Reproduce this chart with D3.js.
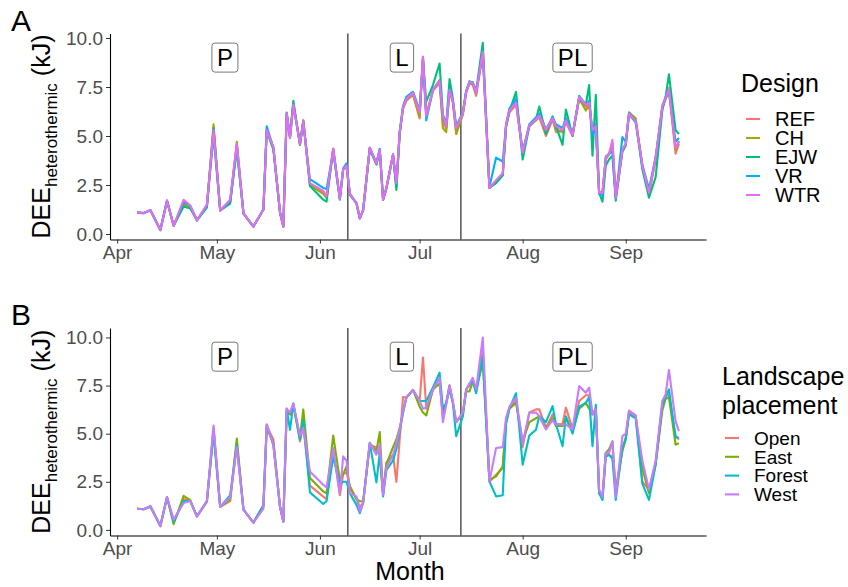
<!DOCTYPE html>
<html>
<head>
<meta charset="utf-8">
<script src="https://cdn.jsdelivr.net/npm/d3@7"></script>
<style>
  body { margin: 0; background: #fff; }
  svg { font-family: "Liberation Sans", Arial, sans-serif; }
</style>
</head>
<body>
<svg id="chart"></svg>
<script>
// sampling dates (2021 is only used for parsing)
const days = ["04-07","04-09","04-11","04-14","04-16","04-18","04-21","04-23","04-25","04-28",
  "04-30","05-02","05-05","05-07","05-09","05-12","05-15","05-16","05-18","05-20",
  "05-21","05-22","05-23","05-24","05-26","05-27","05-29","06-02","06-03","06-05",
  "06-07","06-08","06-09","06-10","06-12","06-13","06-14","06-16","06-18","06-19",
  "06-20","06-21","06-23","06-24","06-25","06-26","06-27","06-29","07-01","07-02",
  "07-03","07-05","07-07","07-08","07-09","07-10","07-11","07-12","07-14","07-15",
  "07-16","07-17","07-18","07-20","07-22","07-24","07-26","07-27","07-28","07-30",
  "08-01","08-03","08-05","08-06","08-08","08-10","08-11","08-13","08-14","08-16",
  "08-18","08-20","08-21","08-22","08-23","08-24","08-25","08-26","08-27","08-28",
  "08-29","08-31","09-01","09-02","09-04","09-06","09-08","09-10","09-12","09-13",
  "09-14","09-16","09-17"];

// panel A: Design
const designNames = ["REF","CH","EJW","VR","WTR"];
const designColors = ["#F8766D","#A3A500","#00BF7D","#00B0F6","#E76BF3"];
const refA = [1.10,1.07,1.22,0.20,1.70,0.42,1.60,1.40,0.70,1.45,
  5.35,1.20,1.65,4.55,1.05,0.38,1.25,5.35,4.40,1.10,
  0.38,6.10,4.95,6.65,4.55,5.80,2.55,2.10,1.90,4.35,
  1.80,3.30,3.45,2.05,1.57,0.80,1.22,4.40,3.60,4.30,
  1.75,2.35,4.05,2.45,5.15,6.40,6.80,7.10,5.90,9.00,
  6.00,7.30,7.70,5.70,5.40,7.30,6.70,5.20,6.10,7.20,
  7.70,7.60,7.05,9.20,2.35,2.65,3.00,5.50,6.20,6.60,
  4.20,5.50,5.80,5.95,5.00,5.85,5.20,5.25,5.70,5.00,
  6.95,6.50,6.70,5.20,5.40,2.10,2.15,3.80,4.10,4.60,
  1.90,4.25,4.55,6.10,5.80,3.45,2.05,3.80,6.45,6.90,
  7.30,4.10,4.60];
const chA = [1.10,1.07,1.22,0.20,1.70,0.42,1.55,1.35,0.70,1.40,
  5.60,1.20,1.60,4.70,1.05,0.38,1.25,5.30,4.40,1.10,
  0.38,6.10,4.95,6.65,4.60,5.80,2.50,2.05,1.85,4.35,
  1.80,3.30,3.45,2.05,1.57,0.80,1.22,4.40,3.55,4.30,
  1.75,2.30,4.05,2.40,5.15,6.40,6.85,7.15,6.00,9.00,
  6.10,7.35,7.85,5.40,5.20,7.30,6.75,5.10,6.10,7.25,
  7.70,7.65,7.15,9.40,2.35,2.70,3.05,5.55,6.25,6.75,
  4.10,5.55,5.80,6.05,5.15,5.90,5.35,5.20,5.85,5.05,
  6.90,6.30,6.60,5.10,5.40,2.10,2.05,3.85,4.05,4.60,
  1.85,4.30,4.60,6.20,5.90,3.45,2.05,3.85,6.55,7.00,
  7.45,4.30,4.75];
const ejwA = [1.10,1.07,1.22,0.20,1.70,0.42,1.40,1.30,0.70,1.35,
  5.40,1.20,1.55,4.30,1.05,0.38,1.25,5.25,4.30,1.10,
  0.38,6.20,5.00,6.80,4.55,5.75,2.45,1.75,1.65,4.30,
  1.75,3.30,3.45,2.00,1.57,0.80,1.22,4.30,3.55,4.30,
  1.75,2.35,4.05,2.25,5.10,6.50,6.95,7.25,6.30,8.90,
  6.75,7.60,8.70,6.10,5.60,7.90,6.90,5.50,6.20,7.30,
  7.70,7.75,7.30,9.75,2.35,2.60,3.00,5.45,6.25,7.25,
  3.80,5.50,5.85,6.50,5.10,6.00,5.50,4.55,6.35,5.00,
  7.05,6.60,7.60,4.00,7.10,2.10,1.65,3.50,3.80,4.00,
  1.70,4.20,4.50,6.20,5.75,3.30,1.85,2.90,6.30,7.00,
  8.15,5.30,5.10];
const vrA = [1.10,1.05,1.22,0.20,1.70,0.42,1.65,1.45,0.70,1.45,
  5.00,1.20,1.70,4.40,1.05,0.38,1.25,5.50,4.40,1.10,
  0.38,6.15,4.90,6.60,4.65,5.70,2.80,2.35,2.30,4.20,
  1.80,3.35,3.60,2.05,1.57,0.80,1.22,4.40,3.60,4.35,
  1.75,2.35,4.05,2.55,5.25,6.50,7.00,7.25,6.25,8.95,
  5.80,7.35,7.80,6.00,5.50,7.40,6.80,5.40,6.20,7.30,
  7.80,7.70,7.25,9.20,2.40,3.90,3.70,5.60,6.40,6.90,
  4.20,5.60,5.95,6.15,5.35,5.95,5.60,5.40,5.90,5.10,
  6.95,6.60,6.80,5.00,5.60,2.05,2.00,3.95,4.10,4.20,
  1.85,4.95,4.70,6.10,5.70,3.55,2.30,3.95,6.45,6.90,
  7.30,4.70,4.90];
const wtrA = [1.10,1.07,1.22,0.20,1.70,0.42,1.75,1.45,0.70,1.50,
  5.30,1.20,1.75,4.60,1.05,0.38,1.25,5.30,4.45,1.10,
  0.38,6.15,4.90,6.60,4.60,5.75,2.60,2.20,1.95,4.35,
  1.80,3.30,3.50,2.05,1.57,0.80,1.22,4.40,3.60,4.30,
  1.75,2.35,4.05,2.60,5.20,6.45,6.90,7.20,6.20,9.05,
  6.00,7.35,7.80,6.00,5.50,7.35,6.80,5.40,6.15,7.25,
  7.75,7.70,7.20,9.30,2.35,2.75,3.10,5.60,6.30,6.70,
  4.15,5.55,5.85,6.05,5.30,5.90,5.50,5.30,5.80,5.05,
  7.00,6.60,6.70,5.30,5.50,2.10,2.10,3.90,4.10,4.80,
  1.85,4.30,4.60,6.15,5.75,3.50,2.10,3.90,6.50,6.95,
  7.40,4.40,4.70];

// panel B: Landscape placement
const placeNames = ["Open","East","Forest","West"];
const placeColors = ["#F8766D","#7CAE00","#00BFC4","#C77CFF"];
const openB = [1.10,1.07,1.22,0.20,1.70,0.42,1.60,1.50,0.70,1.45,
  5.20,1.20,1.50,4.50,1.05,0.38,1.30,5.40,4.70,1.20,
  0.45,6.20,6.00,6.50,4.60,5.40,2.30,1.73,1.60,4.20,
  1.80,2.90,3.00,2.30,1.60,1.20,1.40,4.40,4.30,3.90,
  1.83,3.50,3.90,2.50,4.70,6.90,6.87,7.27,6.70,8.96,
  6.30,7.25,7.90,5.90,6.60,7.50,6.60,5.60,6.00,7.30,
  7.50,7.80,7.20,9.30,2.50,2.87,3.20,5.70,6.30,6.70,
  4.30,6.10,6.26,6.26,5.30,6.00,5.50,5.50,6.35,5.25,
  6.70,7.00,7.00,6.00,6.30,1.91,1.70,4.00,3.90,3.80,
  2.10,4.20,4.80,6.20,5.95,2.50,2.10,3.50,6.50,7.00,
  7.00,4.90,4.70];
const eastB = [1.10,1.07,1.22,0.20,1.70,0.30,1.77,1.55,0.70,1.50,
  5.30,1.20,1.60,4.75,1.05,0.38,1.25,5.30,4.50,1.20,
  0.43,6.10,6.00,6.50,4.80,6.26,2.70,2.00,1.90,4.90,
  2.60,2.90,3.30,2.20,1.60,1.48,1.50,4.50,4.10,5.08,
  1.90,3.40,4.30,4.70,5.30,6.10,6.87,7.27,6.40,6.10,
  5.95,7.30,7.60,6.00,6.60,7.50,6.60,5.60,6.10,7.20,
  7.20,7.70,7.30,8.70,2.60,2.78,3.30,5.60,6.30,6.60,
  4.60,5.60,5.80,5.90,5.30,5.80,5.40,5.40,5.80,5.10,
  6.30,6.60,6.30,6.00,6.30,1.91,1.65,4.00,4.20,4.60,
  2.00,4.10,4.70,6.10,5.90,3.20,1.90,3.40,6.20,6.80,
  6.90,4.43,4.50];
const forestB = [1.10,1.07,1.22,0.20,1.70,0.42,1.50,1.50,0.70,1.50,
  5.00,1.20,1.80,4.40,1.05,0.38,1.25,5.48,4.40,1.20,
  0.43,6.30,5.20,6.57,4.70,5.70,1.95,1.35,1.50,3.80,
  2.40,2.50,2.50,1.90,1.30,0.87,1.39,4.52,2.47,4.00,
  1.74,3.10,3.60,4.20,5.10,6.10,6.87,7.27,6.70,6.70,
  6.70,7.40,8.17,6.30,6.60,7.30,6.60,4.87,5.90,7.30,
  7.60,7.70,7.10,9.00,2.52,1.74,1.80,5.50,6.30,7.10,
  3.39,4.90,5.20,5.90,5.60,6.43,5.50,4.35,5.90,5.00,
  6.40,6.60,6.90,4.35,6.50,1.91,1.55,3.80,3.90,3.70,
  1.56,4.30,4.70,6.00,5.80,2.40,1.56,3.40,6.50,6.90,
  7.30,4.80,4.80];
const westB = [1.10,1.07,1.25,0.20,1.70,0.55,1.40,1.50,0.70,1.50,
  5.42,1.20,1.70,4.30,1.05,0.38,1.10,5.48,4.40,1.20,
  0.43,6.30,6.10,6.57,4.90,5.30,3.04,2.35,2.20,4.25,
  1.90,3.82,3.60,1.91,1.74,0.95,1.39,4.52,3.91,4.43,
  1.83,3.22,3.90,4.50,5.20,6.20,6.87,7.27,6.70,6.30,
  6.35,7.30,7.90,5.60,6.50,7.50,6.70,5.60,6.10,7.30,
  7.60,7.90,7.30,10.00,2.52,4.26,4.30,5.83,6.40,6.87,
  4.52,6.09,6.10,5.90,5.22,5.70,5.48,5.48,5.48,5.22,
  7.48,7.13,7.39,6.00,6.26,2.10,1.70,4.00,4.00,4.60,
  1.70,4.87,5.00,6.17,5.91,3.60,2.10,3.60,6.70,7.04,
  8.31,5.65,5.13];

// phases
const phaseBreaks = ["06-09 10:00","07-13 10:00"];
const phaseLabels = ["P","L","PL"];
const phaseLabelDates = ["05-03 10:00","06-25 16:00","08-16 00:00"];
const phaseLabelY = 9;

const monthTicks = ["04-01","05-01","06-01","07-01","08-01","09-01"];
const yTicks = [0, 2.5, 5, 7.5, 10];

// ---------------------------------------------------------------
const width = 848, height = 587;
const svg = d3.select("#chart").attr("width", width).attr("height", height);

const parseDay = d3.timeParse("%Y-%m-%d");
const parseTime = d3.timeParse("%Y-%m-%d %H:%M");
const dates = days.map(d => parseDay("2021-" + d));

const [d0, d1] = d3.extent(dates);
const pad = (d1 - d0) * 0.05;
const x = d3.scaleTime()
  .domain([new Date(+d0 - pad), new Date(+d1 + pad)])
  .range([110, 706]);

const tickGray = "#4D4D4D";

function drawPanel(cfg) {
  const y = d3.scaleLinear().domain(cfg.yDomain).range([cfg.bottom, cfg.top]);
  const g = svg.append("g");

  // phase boundaries
  g.selectAll("line.phase").data(phaseBreaks).enter().append("line")
    .attr("class", "phase")
    .attr("x1", d => x(parseTime("2021-" + d))).attr("x2", d => x(parseTime("2021-" + d)))
    .attr("y1", cfg.top).attr("y2", cfg.bottom)
    .attr("stroke", "#000").attr("stroke-width", 1);

  // series lines
  const line = d3.line().x((d, i) => x(dates[i])).y(d => y(d));
  g.selectAll("path.series").data(cfg.series).enter().append("path")
    .attr("class", "series")
    .attr("d", d => line(d))
    .attr("fill", "none")
    .attr("stroke", (d, i) => cfg.colors[i])
    .attr("stroke-width", 2.1)
    .attr("stroke-linejoin", "round");

  // phase labels (boxed)
  const lab = g.selectAll("g.plab").data(phaseLabels).enter().append("g")
    .attr("class", "plab")
    .attr("transform", (d, i) => "translate(" + x(parseTime("2021-" + phaseLabelDates[i])) + "," + y(phaseLabelY) + ")");
  lab.append("text")
    .attr("text-anchor", "middle").attr("dy", "0.36em")
    .attr("font-size", 24).attr("fill", "#000")
    .text(d => d);
  lab.each(function() {
    const t = d3.select(this).select("text").node().getBBox();
    d3.select(this).insert("rect", "text")
      .attr("x", t.x - 5).attr("y", -14.5)
      .attr("width", t.width + 10).attr("height", 29)
      .attr("rx", 3).attr("fill", "#fff")
      .attr("stroke", "#555").attr("stroke-width", 0.8);
  });

  // axes
  const yAxis = g.append("g").attr("transform", "translate(110,0)")
    .call(d3.axisLeft(y).tickValues(yTicks).tickFormat(d3.format(".1f")).tickSize(4).tickSizeOuter(0));
  const xAxis = g.append("g").attr("transform", "translate(0," + cfg.bottom + ")")
    .call(d3.axisBottom(x).tickValues(monthTicks.map(d => parseDay("2021-" + d)))
      .tickFormat(d3.timeFormat("%b")).tickSize(4).tickSizeOuter(0));
  [yAxis, xAxis].forEach(a => {
    a.select(".domain").attr("stroke", "#000").attr("stroke-width", 1.1);
    a.selectAll(".tick line").attr("stroke", "#333");
    a.selectAll(".tick text").attr("fill", tickGray).attr("font-size", 19)
      .attr("font-family", "Liberation Sans, Arial, sans-serif");
  });
  yAxis.selectAll(".tick text").attr("x", -7);
  xAxis.selectAll(".tick text").attr("y", 6);

  // y title with subscript
  const mid = (cfg.top + cfg.bottom) / 2;
  const yt = g.append("text")
    .attr("transform", "translate(50," + mid + ") rotate(-90)")
    .attr("text-anchor", "middle").attr("font-size", 25).attr("fill", "#000");
  yt.append("tspan").text("DEE");
  yt.append("tspan").attr("font-size", 17).attr("dy", 7).text("heterothermic");
  yt.append("tspan").attr("dy", -7).text(" (kJ)");

  // panel tag
  g.append("text").attr("x", 11).attr("y", cfg.top - 3)
    .attr("font-size", 30).attr("fill", "#000").text(cfg.tag);

  // legend
  const lg = g.append("g").attr("transform", "translate(" + cfg.legend.x + "," + cfg.legend.y + ")");
  cfg.legend.title.forEach((t, i) => {
    lg.append("text").attr("x", 0).attr("y", i * 29).attr("font-size", 25).attr("fill", "#000").text(t);
  });
  const items = lg.selectAll("g.item").data(cfg.names).enter().append("g")
    .attr("class", "item")
    .attr("transform", (d, i) => "translate(0," + (cfg.legend.first + i * cfg.legend.step) + ")");
  items.append("line")
    .attr("x1", cfg.legend.keyX).attr("x2", cfg.legend.keyX + 14)
    .attr("stroke", (d, i) => cfg.colors[i]).attr("stroke-width", 2.1);
  items.append("text")
    .attr("x", cfg.legend.keyX + 29).attr("dy", "0.36em")
    .attr("font-size", cfg.legend.fontSize).attr("fill", "#000")
    .text(d => d);
}

drawPanel({
  tag: "A", top: 33.5, bottom: 239.5, yDomain: [-0.28, 10.23],
  series: [refA, chA, ejwA, vrA, wtrA], colors: designColors, names: designNames,
  legend: { x: 741, y: 92, title: ["Design"], first: 27, step: 19, keyX: 5, fontSize: 20 }
});

drawPanel({
  tag: "B", top: 328, bottom: 535.5, yDomain: [-0.29, 10.49],
  series: [openB, eastB, forestB, westB], colors: placeColors, names: placeNames,
  legend: { x: 722, y: 385, title: ["Landscape", "placement"], first: 53, step: 18.8, keyX: 3, fontSize: 19 }
});

// x title
svg.append("text").attr("x", 410).attr("y", 580)
  .attr("text-anchor", "middle").attr("font-size", 25).attr("fill", "#000")
  .text("Month");
</script>
</body>
</html>
